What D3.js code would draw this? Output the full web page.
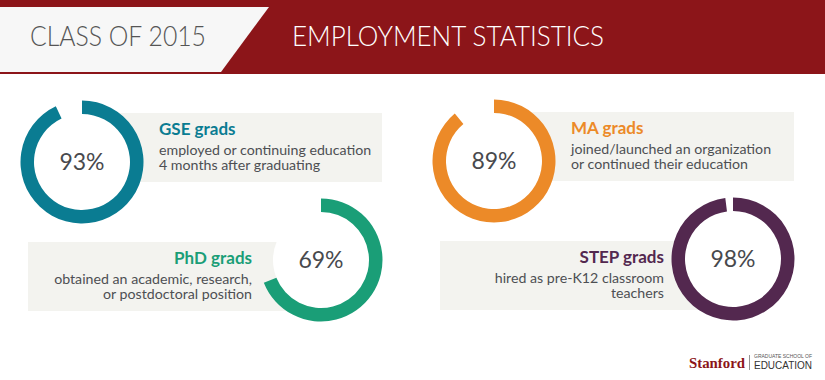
<!DOCTYPE html>
<html>
<head>
<meta charset="utf-8">
<script src="https://cdn.jsdelivr.net/npm/d3@7"></script>
<style>
  html, body { margin: 0; padding: 0; background: #fff; }
  svg { display: block; }
</style>
</head>
<body>
<svg id="chart" width="825" height="380"></svg>
<script>
// ---- data ----
const groups = ["GSE grads", "PhD grads", "MA grads", "STEP grads"];
const values = [93, 69, 89, 98];
const descriptions = [
  ["employed or continuing education", "4 months after graduating"],
  ["obtained an academic, research,", "or postdoctoral position"],
  ["joined/launched an organization", "or continued their education"],
  ["hired as pre-K12 classroom", "teachers"]
];
const colors = ["#0A7C92", "#1A9E77", "#EC8A28", "#53284F"];
const headerLeft = "CLASS OF 2015";
const headerRight = "EMPLOYMENT STATISTICS";

// ---- layout ----
const W = 825, H = 380;
const svg = d3.select("#chart");
const cardinal = "#8C1519";
const textGray = "#4D4F53";
const boxFill = "#F3F3EF";
const sans = "'Source Sans Pro', Lato, 'Open Sans', sans-serif";

// header
svg.append("rect").attr("x", 0).attr("y", 0).attr("width", W).attr("height", 74).attr("fill", cardinal);
svg.append("path").attr("d", "M0,7 L269,7 L221,72 L0,72 Z").attr("fill", "#F7F7F7");
svg.append("text").attr("x", 30).attr("y", 46)
  .attr("font-family", sans).attr("font-weight", 300).attr("font-size", 26.5)
  .attr("textLength", 176).attr("lengthAdjust", "spacingAndGlyphs")
  .attr("fill", "#555").text(headerLeft);
svg.append("text").attr("x", 292).attr("y", 46)
  .attr("font-family", sans).attr("font-weight", 300).attr("font-size", 26.5)
  .attr("textLength", 312).attr("lengthAdjust", "spacingAndGlyphs")
  .attr("fill", "#fff").text(headerRight);

// panels
const col = d3.scaleOrdinal().domain(groups).range(colors);
const panelX = d3.scalePoint().domain(["left", "right"]).range([0, 412]);
const layout = [
  { side: "left", cx: 82, cy: 162, donutFirst: true },
  { side: "left", cx: 321, cy: 260, donutFirst: false },
  { side: "right", cx: 82, cy: 161, donutFirst: true },
  { side: "right", cx: 321, cy: 259, donutFirst: false }
];
const rOuter = 61.5, rInner = 48;
const angle = d3.scaleLinear().domain([0, 100]).range([0, 2 * Math.PI]);
const arc = d3.arc().innerRadius(rInner).outerRadius(rOuter);

groups.forEach((g, i) => {
  const L = layout[i];
  const ox = panelX(L.side);
  const cx = ox + L.cx, cy = L.cy;
  const grp = svg.append("g");

  // text box
  if (L.donutFirst) {
    grp.append("rect").attr("x", cx).attr("y", cy - 49).attr("width", 300).attr("height", 69).attr("fill", boxFill);
  } else {
    grp.append("rect").attr("x", cx - 293).attr("y", cy - 18).attr("width", 293).attr("height", 69).attr("fill", boxFill);
  }
  grp.append("circle").attr("cx", cx).attr("cy", cy).attr("r", rInner).attr("fill", "#fff");

  // donut ring
  grp.append("path")
    .attr("transform", `translate(${cx},${cy})`)
    .attr("d", arc({ startAngle: 0, endAngle: angle(values[i]) }))
    .attr("fill", col(g));

  grp.append("text").attr("x", cx).attr("y", cy + 7.5)
    .attr("text-anchor", "middle")
    .attr("font-family", sans).attr("font-size", 23)
    .attr("fill", "#48494d").text(values[i] + "%");

  // labels
  const tx = L.donutFirst ? cx + 77 : cx - 69;
  const anchor = L.donutFirst ? "start" : "end";
  const tBase = L.donutFirst ? cy - 27 : cy + 4;
  grp.append("text").attr("x", tx).attr("y", tBase)
    .attr("text-anchor", anchor)
    .attr("font-family", sans).attr("font-weight", 700).attr("font-size", 17)
    .attr("fill", col(g)).text(g);
  const desc = grp.append("text")
    .attr("text-anchor", anchor)
    .attr("font-family", sans).attr("font-size", 14.2)
    .attr("fill", textGray);
  descriptions[i].forEach((line, j) => {
    desc.append("tspan").attr("x", tx).attr("y", tBase + 20 + j * 15).text(line);
  });
});

// logo
const logo = svg.append("g");
logo.append("text").attr("x", 689).attr("y", 368)
  .attr("font-family", "'Liberation Serif', serif").attr("font-weight", 700).attr("font-size", 15)
  .attr("textLength", 56).attr("lengthAdjust", "spacingAndGlyphs")
  .attr("fill", cardinal).text("Stanford");
logo.append("line").attr("x1", 749.5).attr("x2", 749.5).attr("y1", 355).attr("y2", 370)
  .attr("stroke", "#777").attr("stroke-width", 0.8);
logo.append("text").attr("x", 754).attr("y", 358.3)
  .attr("font-family", "'Liberation Sans', sans-serif").attr("font-size", 4.6)
  .attr("textLength", 58).attr("lengthAdjust", "spacingAndGlyphs")
  .attr("fill", "#555").text("GRADUATE SCHOOL OF");
logo.append("text").attr("x", 754).attr("y", 368.5)
  .attr("font-family", "'Liberation Sans', sans-serif").attr("font-size", 10.5)
  .attr("textLength", 58).attr("lengthAdjust", "spacingAndGlyphs")
  .attr("fill", "#333").text("EDUCATION");
</script>
</body>
</html>
